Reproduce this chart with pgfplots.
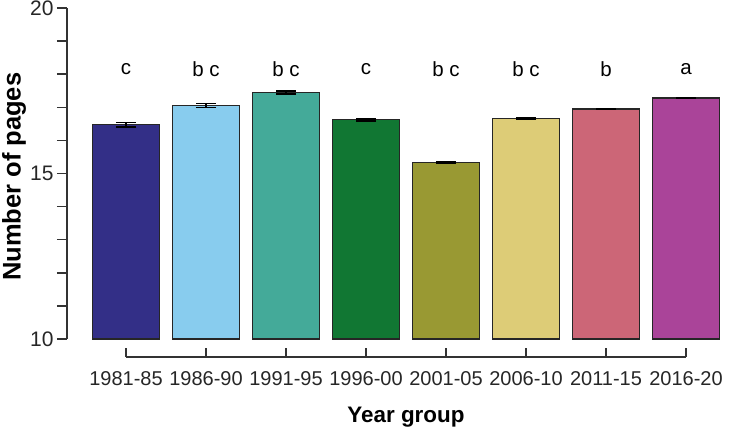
\documentclass[border=0pt]{standalone}
\usepackage{pgfplots}
\pgfplotsset{compat=1.18}
\usepackage{fontspec}
\setmainfont{Liberation Sans}

\definecolor{c1}{HTML}{332F87}
\definecolor{c2}{HTML}{88CCEE}
\definecolor{c3}{HTML}{44AA99}
\definecolor{c4}{HTML}{117733}
\definecolor{c5}{HTML}{999933}
\definecolor{c6}{HTML}{DDCC77}
\definecolor{c7}{HTML}{CC6677}
\definecolor{c8}{HTML}{AA4499}
\definecolor{axgray}{HTML}{333333}

\begin{document}
\begin{tikzpicture}
  \begin{axis}[
      name=ax, at={(0,0)}, anchor=south west,
      scale only axis, width=655pt, height=331pt,
      xmin=-0.7375, xmax=7.45,
      ymin=10, ymax=20,
      axis y line*=left,
      axis x line=none,
      clip mode=individual,
      ybar, bar width=67pt,
      ytick={10,15,20},
      minor ytick={11,12,13,14,16,17,18,19},
      tick align=outside,
      major tick length=10pt, minor tick length=10pt,
      y axis line style={line width=1.5pt, axgray},
      ytick style={line width=1.5pt, axgray},
      minor y tick style={line width=1.5pt, axgray},
      yticklabel style={font=\fontsize{21}{22}\selectfont, text=black!85},
      /pgf/number format/assume math mode=true,
      mybar/.style={
        bar shift=0pt, draw=black!85, line width=1.2pt,
        /pgfplots/error bars/y dir=both,
        /pgfplots/error bars/y explicit,
        /pgfplots/error bars/error bar style={line width=1.5pt, black},
        /pgfplots/error bars/error mark options={rotate=90, mark size=10pt, line width=1.5pt, black},
      },
    ]
    \addplot[mybar, fill=c1] coordinates {(0,16.47) +- (0,0.07)};
    \addplot[mybar, fill=c2] coordinates {(1,17.05) +- (0,0.06)};
    \addplot[mybar, fill=c3] coordinates {(2,17.45) +- (0,0.05)};
    \addplot[mybar, fill=c4] coordinates {(3,16.62) +- (0,0.03)};
    \addplot[mybar, fill=c5] coordinates {(4,15.33) +- (0,0.02)};
    \addplot[mybar, fill=c6] coordinates {(5,16.67) +- (0,0.02)};
    \addplot[mybar, fill=c7] coordinates {(6,16.95) +- (0,0.02)};
    \addplot[mybar, fill=c8] coordinates {(7,17.28) +- (0,0.02)};

    % significance letters
    \begin{scope}[every node/.style={font=\fontsize{20.5}{22}\selectfont}]
      \node at (axis cs:0,18.16) {c};
      \node at (axis cs:1,18.16) {b c};
      \node at (axis cs:2,18.16) {b c};
      \node at (axis cs:3,18.16) {c};
      \node at (axis cs:4,18.16) {b c};
      \node at (axis cs:5,18.16) {b c};
      \node at (axis cs:6,18.16) {b};
      \node at (axis cs:7,18.16) {a};
    \end{scope}

    % offset x axis
    \draw[line width=1.5pt, axgray] ([yshift=-18pt]axis cs:0,10) -- ([yshift=-18pt]axis cs:7,10);
    \draw[line width=1.5pt, axgray] ([yshift=-18pt]axis cs:0,10) -- ([yshift=-9pt]axis cs:0,10);
    \draw[line width=1.5pt, axgray] ([yshift=-18pt]axis cs:1,10) -- ([yshift=-9pt]axis cs:1,10);
    \draw[line width=1.5pt, axgray] ([yshift=-18pt]axis cs:2,10) -- ([yshift=-9pt]axis cs:2,10);
    \draw[line width=1.5pt, axgray] ([yshift=-18pt]axis cs:3,10) -- ([yshift=-9pt]axis cs:3,10);
    \draw[line width=1.5pt, axgray] ([yshift=-18pt]axis cs:4,10) -- ([yshift=-9pt]axis cs:4,10);
    \draw[line width=1.5pt, axgray] ([yshift=-18pt]axis cs:5,10) -- ([yshift=-9pt]axis cs:5,10);
    \draw[line width=1.5pt, axgray] ([yshift=-18pt]axis cs:6,10) -- ([yshift=-9pt]axis cs:6,10);
    \draw[line width=1.5pt, axgray] ([yshift=-18pt]axis cs:7,10) -- ([yshift=-9pt]axis cs:7,10);

    \begin{scope}[every node/.style={font=\fontsize{20}{22}\selectfont, text=black!85}]
      \node at ([yshift=-40pt]axis cs:0,10) {1981-85};
      \node at ([yshift=-40pt]axis cs:1,10) {1986-90};
      \node at ([yshift=-40pt]axis cs:2,10) {1991-95};
      \node at ([yshift=-40pt]axis cs:3,10) {1996-00};
      \node at ([yshift=-40pt]axis cs:4,10) {2001-05};
      \node at ([yshift=-40pt]axis cs:5,10) {2006-10};
      \node at ([yshift=-40pt]axis cs:6,10) {2011-15};
      \node at ([yshift=-40pt]axis cs:7,10) {2016-20};
    \end{scope}

    \node[font=\bfseries\fontsize{22.4}{24}\selectfont] at ([yshift=-78.5pt]axis cs:3.5,10) {Year group};
    \node[rotate=90, font=\bfseries\fontsize{25.5}{27}\selectfont] at ([xshift=-53pt]axis cs:-0.7375,14.9) {Number of pages};
  \end{axis}
  \pgfresetboundingbox
  \path (ax.south west) ++(-67pt,-90pt) rectangle ++(750pt,429pt);
\end{tikzpicture}
\end{document}
